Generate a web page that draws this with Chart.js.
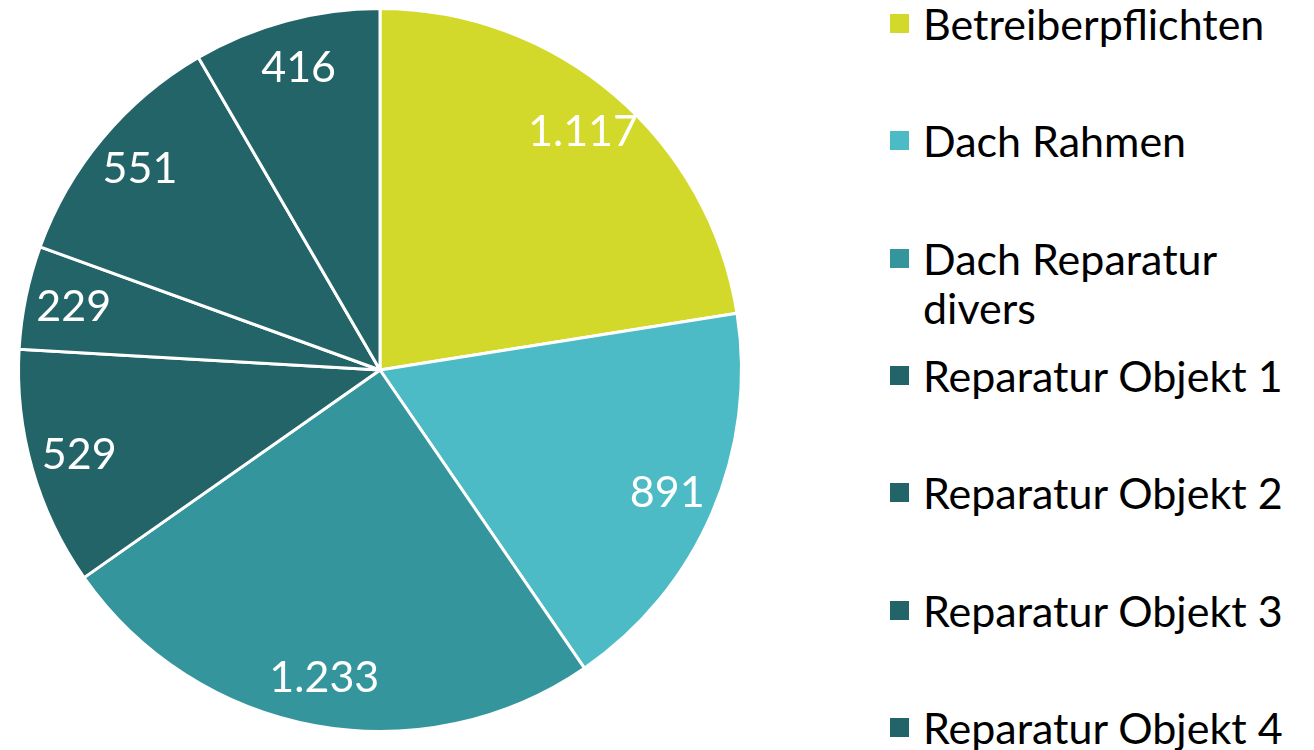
<!DOCTYPE html>
<html lang="de">
<head>
  <meta charset="UTF-8">
  <title>Kosten nach Bereich</title>
  <script src="https://cdn.jsdelivr.net/npm/chart.js"></script>
  <style>
    body {
      margin: 0;
      padding: 0;
      background: #ffffff;
      font-family: Lato, "Open Sans", sans-serif;
    }
    #chartBox {
      position: absolute;
      left: 0;
      top: 0;
      width: 760px;
      height: 750px;
    }
    #legend {
      position: absolute;
      left: 0;
      top: 0;
    }
    .item {
      position: absolute;
      left: 890px;
      width: 420px;
    }
    .box {
      position: absolute;
      left: 0;
      top: 15px;
      width: 19px;
      height: 19px;
    }
    .txt {
      position: absolute;
      left: 33px;
      top: 0;
      width: 375px;
      font-size: 43px;
      line-height: 49px;
      color: #000000;
    }
  </style>
</head>
<body>

  <div id="chartBox"><canvas id="pie"></canvas></div>
  <div id="legend"></div>

  <script>
    const categories = [
      "Betreiberpflichten",
      "Dach Rahmen",
      "Dach Reparatur divers",
      "Reparatur Objekt 1",
      "Reparatur Objekt 2",
      "Reparatur Objekt 3",
      "Reparatur Objekt 4"
    ];
    const values = [1117, 891, 1233, 529, 229, 551, 416];
    const colors = ["#D3D92B", "#4DBBC6", "#35959D", "#236468", "#236468", "#236468", "#236468"];

    // Zahlen mit Tausenderpunkt
    function fmt(v) {
      return String(v).replace(/\B(?=(\d{3})+(?!\d))/g, ".");
    }

    const sliceLabels = {
      id: "sliceLabels",
      afterDatasetsDraw(chart) {
        const ctx = chart.ctx;
        const meta = chart.getDatasetMeta(0);
        ctx.save();
        ctx.fillStyle = "#ffffff";
        ctx.font = "43px Lato, 'Open Sans', sans-serif";
        ctx.textAlign = "center";
        ctx.textBaseline = "middle";
        meta.data.forEach((arc, i) => {
          const p = arc.getProps(["x", "y", "startAngle", "endAngle", "outerRadius"], true);
          const mid = (p.startAngle + p.endAngle) / 2;
          const r = p.outerRadius * 0.865;
          ctx.fillText(fmt(values[i]), p.x + Math.cos(mid) * r, p.y + Math.sin(mid) * r);
        });
        ctx.restore();
      }
    };

    const chart = new Chart(document.getElementById("pie"), {
      type: "pie",
      data: {
        labels: categories,
        datasets: [{
          data: values,
          backgroundColor: colors,
          borderColor: "#ffffff",
          borderWidth: 3
        }]
      },
      options: {
        responsive: true,
        maintainAspectRatio: false,
        animation: false,
        layout: {
          padding: { top: 7, bottom: 17, left: 17, right: 17 }
        },
        plugins: {
          legend: { display: false },
          tooltip: { enabled: false }
        }
      },
      plugins: [sliceLabels]
    });

    // Legende als HTML, aus denselben Arrays
    const legend = document.getElementById("legend");
    categories.forEach((name, i) => {
      const item = document.createElement("div");
      item.className = "item";
      item.style.top = (-1 + i * 117.3) + "px";
      const box = document.createElement("div");
      box.className = "box";
      box.style.background = colors[i];
      const txt = document.createElement("div");
      txt.className = "txt";
      txt.textContent = name;
      item.appendChild(box);
      item.appendChild(txt);
      legend.appendChild(item);
    });
  </script>
</body>
</html>
